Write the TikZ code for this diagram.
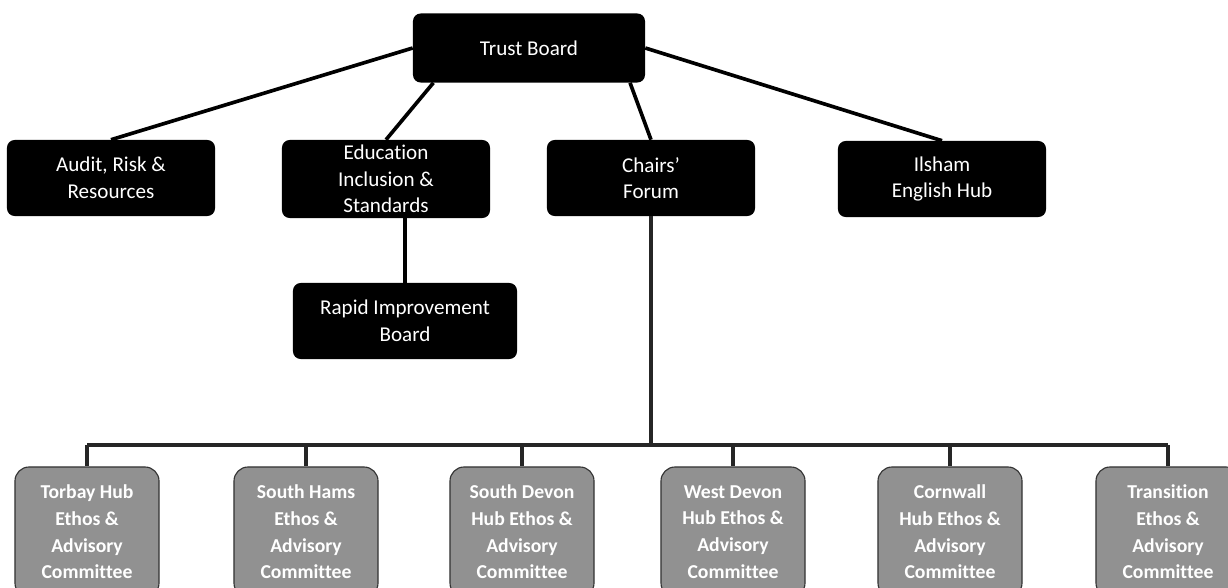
\documentclass[tikz,border=0pt]{standalone}
\usepackage{fontspec}
\setmainfont{Carlito}[Ligatures=NoCommon]
\usepackage{xcolor}
\usetikzlibrary{positioning}

\definecolor{hubgray}{RGB}{145,145,145}

\begin{document}
\begin{tikzpicture}[x=0.025cm, y=-0.025cm,
  board/.style={fill=black, text=white, rounded corners=5.5pt, align=center,
    font=\fontsize{15}{19}\selectfont, inner ysep=1pt, minimum width=5.2cm, minimum height=1.9cm},
  hub/.style={draw=black!80, line width=0.8pt, fill=hubgray, text=white, rounded corners=10pt,
    align=center, font=\fontsize{14}{19}\selectfont\bfseries, minimum width=3.6cm, minimum height=3.25cm},
  link/.style={line width=2.6pt, black},
  bus/.style={line width=2.3pt, black!85}]
\useasboundingbox (0,0) rectangle (1228,587);

\node[board, minimum width=5.8cm, minimum height=1.725cm] (trust) at (529,48) {Trust Board};
\node[board] (audit) at (111,178) {Audit, Risk \&\\Resources};
\node[board, minimum height=1.95cm] (edu) at (386,179) {Education\\Inclusion \&\\Standards};
\node[board] (chairs) at (651,178) {Chairs’\\Forum};
\node[board] (ilsham) at (942,179) {Ilsham\\English Hub};
\node[board, minimum width=5.6cm] (rapid) at (405,321) {Rapid Improvement\\Board};

\node[hub] (torbay) at (87,532) {Torbay Hub\\Ethos \&\\Advisory\\Committee};
\node[hub] (southhams) at (306,532) {South Hams\\Ethos \&\\Advisory\\Committee};
\node[hub] (southdevon) at (522,532) {South Devon\\Hub Ethos \&\\Advisory\\Committee};
\node[hub] (westdevon) at (733,532) {West Devon\\Hub Ethos \&\\Advisory\\Committee};
\node[hub] (cornwall) at (950,532) {Cornwall\\Hub Ethos \&\\Advisory\\Committee};
\node[hub] (transition) at (1168,532) {Transition\\Ethos \&\\Advisory\\Committee};

\draw[link] (trust.west) -- (audit.north);
\draw[link] (trust.200) -- (edu.north);
\draw[link] (trust.341) -- (chairs.north);
\draw[link] (trust.east) -- (ilsham.north);
\draw[link] (edu.south -| rapid.north) -- (rapid.north);

\coordinate (bus) at (chairs.south |- 0,445);
\draw[bus] (chairs.south) -- (bus);
\draw[bus] (torbay.north |- bus) -- (transition.north |- bus);
\foreach \h in {torbay,southhams,southdevon,westdevon,cornwall,transition}
  \draw[bus] (\h.north |- bus) -- (\h.north);
\end{tikzpicture}
\end{document}
